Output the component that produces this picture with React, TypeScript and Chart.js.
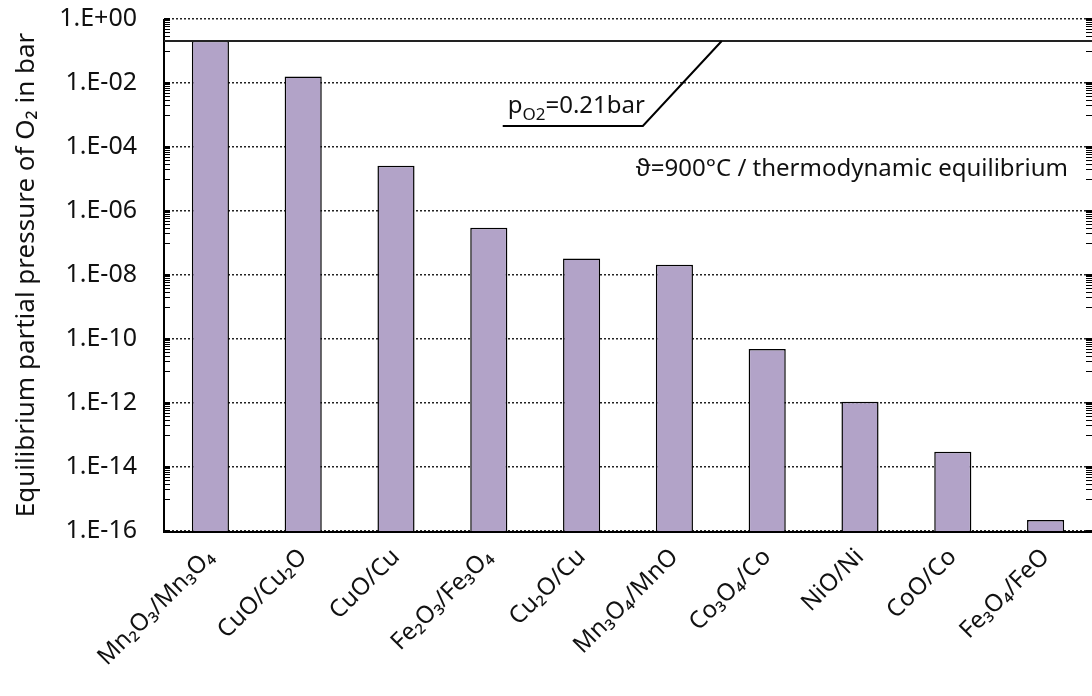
import React, { useEffect, useRef } from 'react';
import { Chart, registerables } from 'chart.js';

Chart.register(...registerables);

const categories = [
  'Mn₂O₃/Mn₃O₄',
  'CuO/Cu₂O',
  'CuO/Cu',
  'Fe₂O₃/Fe₃O₄',
  'Cu₂O/Cu',
  'Mn₃O₄/MnO',
  'Co₃O₄/Co',
  'NiO/Ni',
  'CoO/Co',
  'Fe₃O₄/FeO',
];
const pressures = [0.21, 1.6e-2, 2.6e-5, 3.0e-7, 3.3e-8, 2.1e-8, 4.9e-11, 1.1e-12, 3.0e-14, 2.2e-16];
const yTickValues = [1e0, 1e-2, 1e-4, 1e-6, 1e-8, 1e-10, 1e-12, 1e-14, 1e-16];
const minorDecades = [-1, -3, -5, -7, -9, -11, -13, -15];
const minorFactors = [1, 2, 3, 4, 5, 6, 7, 8, 9];
const airPressure = 0.21;
const yTitle = 'Equilibrium partial pressure of O₂ in bar';
const conditionText = 'ϑ=900°C / thermodynamic equilibrium';
const airLabelMain = 'p';
const airLabelSub = 'O2';
const airLabelRest = '=0.21bar';

const FONT = "'Noto Sans', 'Open Sans', 'DejaVu Sans', sans-serif";

function formatExp(v: number): string {
  const e = Math.round(Math.log10(v));
  const sign = e < 0 ? '-' : '+';
  const a = Math.abs(e);
  return '1.E' + sign + (a < 10 ? '0' + a : String(a));
}

const decorPlugin = {
  id: 'decor',
  afterDraw(chart: any) {
    const { ctx, chartArea } = chart;
    const { left, right, top, bottom } = chartArea;
    const y = chart.scales.y;
    ctx.save();
    ctx.setLineDash([]);
    ctx.strokeStyle = '#000';
    // minor ticks
    ctx.lineWidth = 1;
    for (const d of minorDecades) {
      for (const k of minorFactors) {
        const py = Math.round(y.getPixelForValue(k * Math.pow(10, d))) + 0.5;
        ctx.beginPath();
        ctx.moveTo(left, py);
        ctx.lineTo(left + 6, py);
        ctx.moveTo(right, py);
        ctx.lineTo(right - 6, py);
        ctx.stroke();
      }
    }
    // major ticks
    ctx.lineWidth = 2;
    for (const v of yTickValues) {
      const py = Math.round(y.getPixelForValue(v));
      ctx.beginPath();
      ctx.moveTo(left, py);
      ctx.lineTo(left + 6, py);
      ctx.moveTo(right, py);
      ctx.lineTo(right - 6, py);
      ctx.stroke();
    }
    // axis lines
    ctx.lineWidth = 2;
    ctx.beginPath();
    ctx.moveTo(left, top);
    ctx.lineTo(left, bottom + 1);
    ctx.lineTo(right, bottom + 1);
    ctx.stroke();

    // 0.21 bar line
    const ay = Math.round(y.getPixelForValue(airPressure));
    ctx.strokeStyle = '#222';
    ctx.lineWidth = 2;
    ctx.beginPath();
    ctx.moveTo(left, ay);
    ctx.lineTo(right, ay);
    ctx.stroke();

    // leader for label
    const w = right - left;
    const ux1 = left + 0.365 * w;
    const ux2 = left + 0.516 * w;
    const dx = left + 0.601 * w;
    const uy = Math.round(y.getPixelForValue(4.6e-4));
    ctx.strokeStyle = '#000';
    ctx.lineWidth = 2;
    ctx.beginPath();
    ctx.moveTo(ux1, uy);
    ctx.lineTo(ux2, uy);
    ctx.lineTo(dx, ay);
    ctx.stroke();

    // label text
    ctx.fillStyle = '#111';
    ctx.textAlign = 'left';
    ctx.textBaseline = 'alphabetic';
    const base = uy - 13;
    let tx = ux1 + 5;
    ctx.font = `24px ${FONT}`;
    ctx.fillText(airLabelMain, tx, base);
    tx += ctx.measureText(airLabelMain).width;
    ctx.font = `17px ${FONT}`;
    ctx.fillText(airLabelSub, tx, base + 7);
    tx += ctx.measureText(airLabelSub).width;
    ctx.font = `24px ${FONT}`;
    ctx.fillText(airLabelRest, tx, base);

    // condition text
    ctx.textAlign = 'right';
    ctx.textBaseline = 'middle';
    ctx.font = `24px ${FONT}`;
    ctx.fillText(conditionText, right - 24, y.getPixelForValue(2.0e-5));
    ctx.restore();
  },
};

export default function App() {
  const ref = useRef<HTMLCanvasElement | null>(null);
  useEffect(() => {
    if (!ref.current) return;
    const chart = new Chart(ref.current, {
      type: 'bar',
      data: {
        labels: categories,
        datasets: [
          {
            data: pressures,
            backgroundColor: '#B2A3C8',
            borderColor: '#000',
            borderWidth: 1.5,
            barPercentage: 0.4,
            categoryPercentage: 1,
          },
        ],
      },
      options: {
        responsive: false,
        animation: false,
        layout: { padding: { top: 19, right: 0, left: 0, bottom: 0 } },
        plugins: {
          legend: { display: false },
          tooltip: { enabled: false },
        },
        scales: {
          x: {
            grid: { display: false },
            border: { display: false },
            ticks: {
              autoSkip: false,
              maxRotation: 45,
              minRotation: 45,
              padding: 4,
              color: '#111',
              font: { family: FONT, size: 24 },
            },
            afterFit: (scale: any) => {
              scale.height = 165;
              scale.paddingLeft = 0;
              scale.paddingRight = 0;
            },
          },
          y: {
            type: 'logarithmic',
            min: 1e-16,
            max: 1,
            afterBuildTicks: (scale: any) => {
              scale.ticks = yTickValues.map((v) => ({ value: v, major: false }));
            },
            afterFit: (scale: any) => {
              scale.width = 164;
              scale.paddingTop = 0;
              scale.paddingBottom = 0;
            },
            grid: {
              color: '#222',
              lineWidth: 1.5,
              drawTicks: false,
            },
            border: { display: false, dash: [2, 2] },
            ticks: {
              padding: 27,
              color: '#111',
              font: { family: FONT, size: 25 },
              callback: (v: any) => formatExp(Number(v)),
            },
            title: {
              display: true,
              text: yTitle,
              color: '#111',
              font: { family: FONT, size: 26 },
              padding: { top: 11, bottom: 0 },
            },
          },
        },
      },
      plugins: [decorPlugin],
    });
    return () => chart.destroy();
  }, []);
  return (
    <div style={{ position: 'fixed', left: 0, top: 0, width: 1092, height: 696 }}>
      <canvas ref={ref} width={1092} height={696} style={{ display: 'block' }} />
    </div>
  );
}
